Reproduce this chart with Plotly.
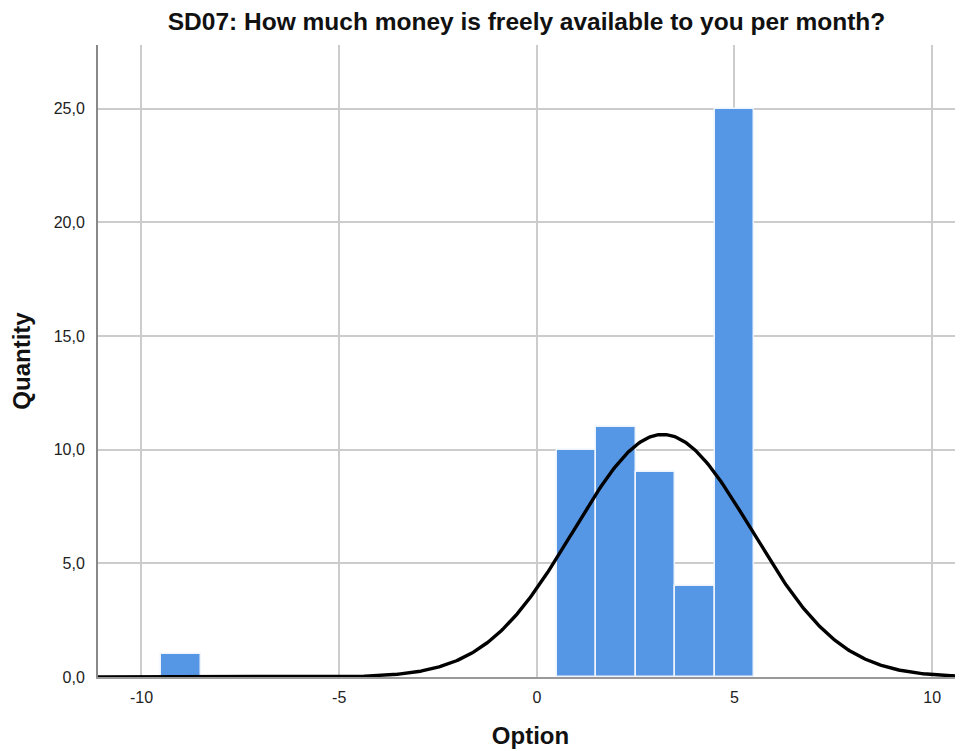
import numpy as np
import plotly.graph_objects as go

# Data
options = [-9, 1, 2, 3, 4, 5]
counts = [1, 10, 11, 9, 4, 25]
bin_width = 1.0
x_ticks = [-10, -5, 0, 5, 10]
y_ticks = [0, 5, 10, 15, 20, 25]

# Fitted normal curve (as SPSS draws it) from the histogram data
vals = np.repeat(options, counts).astype(float)
n = len(vals)
mu = vals.mean()
sd = vals.std(ddof=1)
xs = np.linspace(-11.1, 10.8, 600)
ys = n * bin_width / (sd * np.sqrt(2 * np.pi)) * np.exp(-0.5 * ((xs - mu) / sd) ** 2)

fig = go.Figure()
fig.add_trace(go.Bar(
    x=options, y=counts, width=bin_width,
    marker=dict(color="#5596e5", line=dict(color="#eef4fc", width=1.5)),
    hoverinfo="x+y", showlegend=False,
))
fig.add_trace(go.Scatter(
    x=xs, y=ys, mode="lines",
    line=dict(color="black", width=3.4),
    showlegend=False, hoverinfo="skip",
))

H = 743
fig.update_layout(
    width=955, height=H,
    paper_bgcolor="white", plot_bgcolor="white",
    margin=dict(l=90, r=0, t=37, b=74),
    separators=",.",
    font=dict(family="Liberation Sans, Arial, sans-serif", size=16, color="#222"),
    title=dict(
        text="<b>SD07: How much money is freely available to you per month?</b>",
        x=0.5 - 4 / 865, xref="paper", xanchor="center",
        y=1 - 13 / H, yanchor="middle",
        font=dict(family="Liberation Sans, Arial, sans-serif", size=24.5, color="#111"),
    ),
    bargap=0,
)
fig.update_xaxes(
    range=[-11.1, 10.78], tickvals=x_ticks, ticktext=[str(t) for t in x_ticks],
    showgrid=True, gridcolor="#cccccc", gridwidth=1.5,
    showline=True, linecolor="#999999", linewidth=1.5,
    zeroline=False, ticks="", ticklabelstandoff=5,
    tickfont=dict(size=16, color="#222"),
    title=dict(text="<b>Option</b>", font=dict(size=24, color="#111"), standoff=22),
)
fig.update_yaxes(
    range=[0, 27.8], tickvals=y_ticks, tickformat=".1f",
    showgrid=True, gridcolor="#cccccc", gridwidth=1.5,
    showline=True, linecolor="#888888", linewidth=2,
    zeroline=False, ticks="", ticklabelstandoff=8,
    tickfont=dict(size=16, color="#222"),
    title=dict(text="<b>Quantity</b>", font=dict(size=24, color="#111"), standoff=18),
)

fig.write_html("out.html")
